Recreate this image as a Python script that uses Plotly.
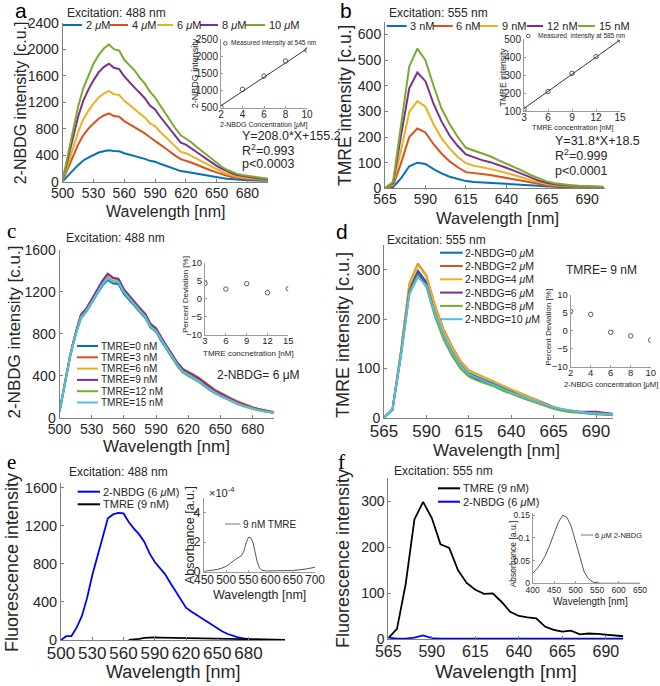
import plotly.graph_objects as go

# ---------------- data ----------------
wl_a = [500, 505, 510, 515, 520, 525, 530, 535, 540, 545, 550, 555, 560, 565, 570, 575, 580, 585, 590, 595,
        600, 605, 610, 615, 620, 625, 630, 635, 640, 645, 650, 655, 660, 665, 670, 675, 680, 685, 690, 695, 700]
a_labels = ["2 <i>μ</i>M", "4 <i>μ</i>M", "6 <i>μ</i>M", "8 <i>μ</i>M", "10 <i>μ</i>M"]
a_2uM = [5, 80, 170, 250, 320, 365, 405, 440, 460, 475, 465, 460, 430, 410, 385, 365, 345, 315, 300, 270,
         240, 210, 185, 160, 150, 135, 122, 108, 94, 80, 67, 55, 45, 37, 30, 25, 21, 18, 15, 13, 12]
a_4uM = [15, 190, 380, 560, 700, 800, 880, 950, 1000, 1030, 990, 980, 915, 870, 820, 770, 730, 670, 620, 560,
         505, 445, 390, 340, 320, 290, 260, 225, 195, 165, 140, 113, 90, 72, 58, 48, 41, 35, 30, 27, 24]
a_6uM = [20, 250, 500, 750, 940, 1070, 1180, 1270, 1330, 1370, 1320, 1310, 1220, 1160, 1090, 1030, 970, 880, 840, 750,
         680, 600, 520, 450, 430, 390, 350, 305, 265, 225, 185, 150, 120, 97, 78, 65, 55, 48, 41, 36, 32]
a_8uM = [25, 330, 650, 980, 1220, 1390, 1530, 1650, 1730, 1780, 1720, 1700, 1590, 1500, 1420, 1340, 1260, 1150, 1090, 980,
         880, 780, 680, 590, 560, 510, 455, 400, 345, 290, 240, 195, 155, 125, 100, 85, 72, 62, 53, 47, 42]
a_10uM = [30, 380, 740, 1130, 1410, 1610, 1780, 1910, 2010, 2070, 2000, 1980, 1840, 1760, 1680, 1570, 1480, 1360, 1270, 1150,
          1030, 910, 800, 700, 655, 600, 530, 470, 405, 340, 280, 225, 180, 145, 118, 100, 86, 72, 62, 55, 50]
a_xticks = [500, 530, 560, 590, 620, 650, 680]
a_yticks = [0, 400, 800, 1200, 1600, 2000, 2400]

a_in_conc = [2, 4, 6, 8, 10]
a_in_int = [512, 1037, 1425, 1864, 2185]
a_fit_x = [2, 10]
a_fit_y = [560, 2225]

wl_b = [565, 570, 575, 580, 585, 590, 595, 600, 605, 610, 615, 620, 625, 630, 635, 640, 645, 650, 655, 660,
        665, 670, 675, 680, 685, 690, 695, 700]
b_labels = ["3 nM", "6 nM", "9 nM", "12 nM", "15 nM"]
b_3nM = [0, 5, 40, 86, 100, 95, 75, 58, 45, 35, 28, 25, 23, 21, 19, 17, 15, 13, 10, 8, 6, 5, 4, 3, 3, 2, 2, 2]
b_6nM = [0, 10, 100, 200, 233, 218, 172, 135, 105, 82, 63, 60, 56, 52, 46, 40, 36, 30, 23, 17, 12, 9, 7, 6, 5, 4, 4, 3]
b_9nM = [0, 15, 150, 298, 340, 318, 250, 195, 155, 122, 98, 88, 82, 76, 68, 60, 52, 42, 32, 24, 17, 13, 10, 8, 7, 6, 5, 4]
b_12nM = [0, 20, 210, 390, 452, 418, 330, 260, 205, 165, 132, 120, 110, 102, 92, 80, 68, 56, 42, 30, 22, 16, 13, 10, 8, 7, 6, 5]
b_15nM = [0, 25, 250, 475, 545, 500, 400, 310, 250, 200, 158, 148, 138, 125, 110, 97, 82, 68, 52, 38, 27, 20, 15, 12, 10, 8, 7, 6]
b_xticks = [565, 590, 615, 640, 665, 690]
b_yticks = [0, 100, 200, 300, 400, 500, 600]

b_in_conc = [3, 6, 9, 12, 15]
b_in_int = [111, 208, 310, 403, 496]
b_fit_x = [3, 15]
b_fit_y = [114, 496]

c_labels = ["TMRE=0 nM", "TMRE=3 nM", "TMRE=6 nM", "TMRE=9 nM", "TMRE=12 nM", "TMRE=15 nM"]
c_0 = [55, 320, 590, 790, 950, 1010, 1100, 1180, 1260, 1315, 1280, 1275, 1180, 1120, 1060, 1000, 950, 860, 820, 730,
       650, 570, 495, 435, 405, 375, 345, 305, 265, 235, 210, 185, 160, 138, 118, 102, 88, 75, 64, 55, 48]
c_3 = [60, 330, 600, 810, 985, 1040, 1130, 1210, 1300, 1365, 1330, 1320, 1225, 1160, 1100, 1040, 990, 895, 855, 765,
       685, 605, 525, 465, 440, 410, 380, 340, 300, 265, 240, 210, 185, 160, 138, 118, 100, 86, 74, 64, 55]
c_6 = [58, 325, 595, 800, 975, 1030, 1120, 1200, 1290, 1350, 1310, 1305, 1210, 1150, 1085, 1025, 975, 875, 835, 745,
       665, 585, 505, 445, 415, 385, 350, 310, 270, 235, 208, 180, 155, 133, 113, 97, 83, 71, 61, 52, 45]
c_9 = [58, 328, 598, 805, 980, 1040, 1130, 1215, 1305, 1375, 1335, 1325, 1225, 1165, 1100, 1040, 985, 890, 850, 760,
       680, 600, 520, 460, 430, 400, 370, 330, 290, 255, 228, 200, 175, 150, 128, 110, 94, 80, 68, 58, 50]
c_12 = [56, 322, 592, 795, 960, 1020, 1110, 1190, 1270, 1330, 1295, 1290, 1195, 1130, 1070, 1010, 955, 860, 820, 735,
        655, 575, 495, 430, 400, 372, 342, 302, 265, 235, 208, 182, 158, 136, 116, 100, 86, 73, 62, 53, 46]
c_15 = [55, 318, 588, 790, 955, 1015, 1105, 1190, 1275, 1330, 1300, 1295, 1200, 1140, 1080, 1020, 965, 870, 830, 745,
        665, 585, 505, 442, 412, 382, 352, 312, 272, 240, 212, 186, 162, 140, 120, 103, 88, 75, 64, 55, 47]
c_yticks = [0, 400, 800, 1200, 1600]
c_in_tmre = [3, 6, 9, 12, 15]
c_in_dev = [4.3, 2.7, 4.2, 1.7, 2.8]

d_labels = ["2-NBDG=0 <i>μ</i>M", "2-NBDG=2 <i>μ</i>M", "2-NBDG=4 <i>μ</i>M",
            "2-NBDG=6 <i>μ</i>M", "2-NBDG=8 <i>μ</i>M", "2-NBDG=10 <i>μ</i>M"]
d_0 = [0, 16, 130, 260, 298, 275, 215, 170, 135, 108, 90, 82, 75, 68, 60, 53, 46, 40, 33, 26, 20, 16, 13, 11, 9, 8, 7, 6]
d_2 = [0, 18, 135, 272, 312, 288, 228, 180, 145, 115, 96, 88, 80, 72, 64, 57, 50, 43, 36, 28, 22, 17, 14, 12, 10, 9, 8, 7]
d_4 = [0, 17, 134, 270, 310, 286, 226, 178, 143, 114, 95, 88, 80, 73, 65, 57, 50, 43, 35, 27, 21, 16, 13, 11, 9, 8, 7, 6]
d_6 = [0, 16, 128, 258, 292, 270, 210, 165, 130, 105, 87, 78, 72, 65, 57, 50, 43, 37, 31, 25, 19, 15, 13, 12, 12, 12, 10, 8]
d_8 = [0, 16, 128, 255, 288, 265, 205, 160, 126, 100, 83, 75, 69, 63, 55, 48, 42, 36, 30, 24, 18, 14, 11, 10, 8, 7, 6, 5]
d_10 = [0, 17, 125, 250, 285, 268, 212, 168, 133, 106, 88, 80, 73, 66, 58, 51, 45, 39, 33, 27, 21, 17, 14, 12, 10, 9, 8, 7]
d_yticks = [0, 100, 200, 300]
d_in_nbdg = [2, 4, 6, 8, 10]
d_in_dev = [5.4, 4.6, -0.4, -1.4, -2.6]
dev_ticks = [-10, -5, 0, 5, 10]

wl_e = [500, 505, 510, 515, 520, 525, 530, 535, 540, 545, 550, 555, 560, 565, 570, 575, 580, 585, 590, 595,
        600, 605, 610, 615, 620, 625, 630, 635, 640, 645, 650, 655, 660, 665, 670, 675, 680, 685, 690, 695]
e_nbdg = [0, 40, 42, 130, 250, 440, 680, 880, 1080, 1280, 1320, 1335, 1330, 1240, 1170, 1110, 1030, 910, 820, 760,
          690, 600, 510, 420, 340, 300, 265, 228, 192, 155, 122, 90, 63, 42, 28, 16, 8, 4, 2, 0]
wl_e_tmre = [565, 570, 575, 580, 585, 590, 595, 600, 610, 620, 630, 640, 650, 660, 670, 680, 690, 700, 710, 715]
e_tmre = [0, 3, 12, 22, 28, 27, 26, 25, 23, 21, 19, 17, 15, 12, 10, 8, 6, 4, 3, 2]
e_yticks = [0, 400, 800, 1200, 1600]
wl_abs_e = [450, 460, 470, 480, 490, 500, 510, 515, 520, 525, 530, 535, 540, 545, 550, 555, 560, 565, 570, 575,
            580, 590, 600, 620, 650, 680, 700]
abs_e = [0.02, 0.05, 0.09, 0.15, 0.24, 0.36, 0.58, 0.72, 0.82, 0.9, 0.98, 1.1, 1.4, 1.95, 2.3, 2.3, 2.0, 1.35, 0.65, 0.25,
         0.1, 0.05, 0.05, 0.05, 0.08, 0.18, 0.3]
e_in_xticks = [450, 500, 550, 600, 650, 700]
e_in_yticks = [0, 2, 4]

f_tmre = [2, 22, 120, 260, 298, 263, 206, 198, 150, 122, 107, 98, 99, 81, 59, 50, 47, 45, 27, 20, 16, 18, 10, 12, 11, 9, 8, 6]
f_nbdg = [3, 1, 1, 3, 8, 2, 1, 1, 1, 1, 1, 1, 1, 1, 1, 1, 1, 1, 1, 1, 1, 1, 1, 1, 1, 1, 1, 1]
wl_abs_f = [400, 410, 420, 430, 440, 450, 460, 470, 480, 490, 500, 510, 520, 530, 540, 550, 560, 600, 650]
abs_f = [0.022, 0.032, 0.045, 0.062, 0.085, 0.11, 0.135, 0.15, 0.145, 0.125, 0.092, 0.055, 0.025, 0.01, 0.003, 0.001, 0, 0, 0]
f_in_xticks = [400, 450, 500, 550, 600, 650]
f_in_yticks = [0, 0.05, 0.1, 0.15]
f_in_yticktext = ["0", "0.05", "0.1", "0.15"]

# ---------------- styling ----------------
W, H = 660, 686
FONT = "Liberation Sans, Arial, sans-serif"
SERIF = "Liberation Serif, Times New Roman, serif"
AXC = "#7f7f7f"
INC = "#9a9a9a"
TXT = "#262626"
C6 = ["#0072BD", "#D95319", "#EDB120", "#7E2F8E", "#77AC30", "#4DBEEE"]


def X(p):
    return p / W


def Y(p):
    return 1 - p / H


layout = {}
annotations = []
shapes = []
fig = go.Figure()


def refs(n):
    return ("x" if n == 1 else f"x{n}", "y" if n == 1 else f"y{n}")


def add_axes(n, xdom, ydom, xr, yr, xt, yt, xfs, yfs, ytt=None, col=AXC, tl=3, xso=-2, yso=0):
    xk = "xaxis" if n == 1 else f"xaxis{n}"
    yk = "yaxis" if n == 1 else f"yaxis{n}"
    xr_, yr_ = refs(n)
    common = dict(showgrid=False, zeroline=False, showline=True, linecolor=col, linewidth=1,
                  ticks="inside", ticklen=tl, tickwidth=1, tickcolor=col, automargin=False,
                  fixedrange=True, tickangle=0)
    layout[xk] = dict(domain=[X(xdom[0]), X(xdom[1])], range=xr, anchor=yr_, tickvals=xt,
                      tickfont=dict(family=FONT, size=xfs, color=TXT), ticklabelstandoff=xso, **common)
    yd = dict(domain=[Y(ydom[1]), Y(ydom[0])], range=yr, anchor=xr_, tickvals=yt,
              tickfont=dict(family=FONT, size=yfs, color=TXT), ticklabelstandoff=yso, **common)
    if ytt is not None:
        yd["ticktext"] = ytt
    layout[yk] = yd


def line(n, x, y, color, width=2):
    xr_, yr_ = refs(n)
    fig.add_trace(go.Scatter(x=x, y=y, mode="lines", line=dict(color=color, width=width),
                             xaxis=xr_, yaxis=yr_, showlegend=False, hoverinfo="skip"))


def pts(n, x, y):
    xr_, yr_ = refs(n)
    fig.add_trace(go.Scatter(x=x, y=y, mode="markers",
                             marker=dict(symbol="circle-open", size=4.5, color="#333333", line=dict(width=0.8)),
                             xaxis=xr_, yaxis=yr_, showlegend=False, hoverinfo="skip"))


def txt(x, y, s, size, anchor="left", angle=0, family=FONT, color=TXT):
    annotations.append(dict(x=X(x), y=Y(y), xref="paper", yref="paper", text=s, showarrow=False,
                            xanchor=anchor, yanchor="middle", textangle=angle,
                            font=dict(family=family, size=size, color=color)))


def leg_line(x0, x1, y, color, width=2):
    shapes.append(dict(type="line", xref="paper", yref="paper", x0=X(x0), x1=X(x1), y0=Y(y), y1=Y(y),
                       line=dict(color=color, width=width)))


def leg_circle(cx, cy, r=1.8):
    shapes.append(dict(type="circle", xref="paper", yref="paper", x0=X(cx - r), x1=X(cx + r),
                       y0=Y(cy + r), y1=Y(cy - r), line=dict(color="#333333", width=0.8)))


# ---------------- axes ----------------
add_axes(1, (62.7, 268), (22.7, 181.7), [500, 700], [0, 2400], a_xticks, a_yticks, 14, 14)
add_axes(2, (385, 605), (21.7, 188.3), [565, 701], [0, 650], b_xticks, b_yticks, 14, 14)
add_axes(3, (59.5, 274), (250, 417.7), [500, 700], [0, 1600], a_xticks, c_yticks, 14, 14)
add_axes(4, (384, 613), (245, 417.7), [565, 700], [0, 350], b_xticks, d_yticks, 17, 14)
add_axes(5, (61, 285), (483, 640), [500, 715], [0, 1650], a_xticks, e_yticks, 17, 14.5)
add_axes(6, (388.3, 623.3), (478, 639), [565, 700], [0, 350], b_xticks, d_yticks, 16, 14)
add_axes(7, (221, 307), (39.3, 107.7), [2, 10], [500, 2500], a_in_conc, [500, 1000, 1500, 2000, 2500], 10, 10,
         col=INC, tl=2, xso=-3)
add_axes(8, (524, 620), (39.3, 111), [3, 15], [100, 500], b_in_conc, [100, 200, 300, 400, 500], 10, 10,
         col=INC, tl=2, xso=-3)
add_axes(9, (205, 288.3), (262.7, 335), [3, 15], [-10, 10], c_in_tmre, dev_ticks, 9.5, 9.5, col=INC, tl=2, xso=-3)
add_axes(10, (570.7, 650.7), (295, 366.7), [2, 10], [-10, 10], d_in_nbdg, dev_ticks, 9.5, 9.5, col=INC, tl=2, xso=-3)
add_axes(11, (204, 315), (497.5, 571.7), [450, 700], [0, 5], e_in_xticks, e_in_yticks, 12, 12.5, col=INC, tl=2, xso=-3)
add_axes(12, (532.7, 640), (513, 583.3), [400, 650], [0, 0.155], f_in_xticks, f_in_yticks, 8.5, 8.5,
         ytt=f_in_yticktext, col=INC, tl=2, xso=-2)

# ---------------- traces ----------------
for s, c in zip([a_2uM, a_4uM, a_6uM, a_8uM, a_10uM], C6):
    line(1, wl_a, s, c)
for s, c in zip([b_3nM, b_6nM, b_9nM, b_12nM, b_15nM], C6):
    line(2, wl_b, s, c)
for s, c in zip([c_0, c_3, c_6, c_9, c_12, c_15], C6):
    line(3, wl_a, s, c)
for s, c in zip([d_0, d_2, d_4, d_6, d_8, d_10], C6):
    line(4, wl_b, s, c)
line(5, wl_e, e_nbdg, "#0000FF", 1.8)
line(5, wl_e_tmre, e_tmre, "#000000", 1.8)
line(6, wl_b, f_tmre, "#000000", 1.8)
line(6, wl_b, f_nbdg, "#0000FF", 1.8)
line(7, a_fit_x, a_fit_y, "#000000", 0.8)
pts(7, a_in_conc, a_in_int)
line(8, b_fit_x, b_fit_y, "#000000", 0.8)
pts(8, b_in_conc, b_in_int)
pts(9, c_in_tmre, c_in_dev)
pts(10, d_in_nbdg, d_in_dev)
line(11, wl_abs_e, abs_e, "#555555", 1)
line(12, wl_abs_f, abs_f, "#555555", 1)

# ---------------- legends ----------------
for (x0, x1, tx), lab, c in zip([(63, 82, 83.5), (110, 128, 129.5), (157, 173, 174.5), (200, 218, 219.5), (245, 265, 266.5)],
                                a_labels, C6):
    leg_line(x0, x1, 25, c)
    txt(tx, 25, lab, 11)
for (x0, x1, tx), lab, c in zip([(386.7, 406.7, 408), (433, 452.7, 454), (478, 498, 499.5), (526.7, 543, 544.5), (578, 595, 596.5)],
                                b_labels, C6):
    leg_line(x0, x1, 26, c)
    txt(tx, 26, lab, 11)
for i, (lab, c) in enumerate(zip(c_labels, C6)):
    yy = 346 + 11.3 * i
    leg_line(77, 98, yy, c)
    txt(98.5, yy, lab, 10)
for i, (lab, c) in enumerate(zip(d_labels, C6)):
    yy = 252.7 + 13.3 * i
    leg_line(440, 462.7, yy, c)
    txt(463, yy, lab, 10.5)
leg_line(77.7, 100, 491.7, "#0000FF")
txt(100.5, 491.7, "2-NBDG (6 <i>μ</i>M)", 11)
leg_line(77.7, 100, 504.3, "#000000")
txt(100.5, 504.3, "TMRE (9 nM)", 11)
leg_line(438, 460, 488.3, "#000000")
txt(460.5, 488.3, "TMRE (9 nM)", 11)
leg_line(438, 460, 501.7, "#0000FF")
txt(460.5, 501.7, "2-NBDG (6 <i>μ</i>M)", 11)
leg_circle(225.3, 43.3)
txt(228.5, 43.3, "Measured intensity at 545 nm", 6.5)
leg_circle(528.3, 36)
txt(535.5, 36, "Measured  intensity at 585 nm", 6.5)
leg_line(225, 240, 524, "#777777", 1)
txt(240.5, 524, "9 nM TMRE", 10)
leg_line(581, 593, 535, "#777777", 1)
txt(593, 535, "6 <i>μ</i>M 2-NBDG", 7.5)

# ---------------- texts ----------------
for lab, x, y, fam in [("a", 21, 10, FONT), ("b", 346, 11, FONT), ("c", 11, 231, SERIF),
                       ("d", 342, 231, FONT), ("e", 11, 462, SERIF), ("f", 341, 462, SERIF)]:
    txt(x, y, lab, 21, "center", family=fam, color="#000000")
txt(116.7, 12.7, "Excitation: 488 nm", 12, "center")
txt(438.8, 12.7, "Excitation: 555 nm", 12, "center")
txt(115, 238.3, "Excitation: 488 nm", 12, "center")
txt(436.7, 240, "Excitation: 555 nm", 12, "center")
txt(118, 472.3, "Excitation: 488 nm", 12, "center")
txt(443.3, 471, "Excitation: 555 nm", 12, "center")

txt(239.5, 136, "Y=208.0*X+155.2", 12.5)
txt(239.5, 150, "R<sup>2</sup>=0.993", 12.5)
txt(239.5, 164.3, "p<0.0003", 12.5)
txt(553, 141, "Y=31.8*X+18.5", 12.5)
txt(553, 155.3, "R<sup>2</sup>=0.999", 12.5)
txt(553, 170.7, "p<0.0001", 12.5)
txt(258, 375, "2-NBDG= 6 μM", 12, "center")
txt(601, 270, "TMRE= 9 nM", 12, "center")
txt(207, 492, "×10<sup>-4</sup>", 11)

# main axis titles
txt(20, 103.3, "2-NBDG intensity [c.u.]", 16, "center", -90)
txt(165, 211.7, "Wavelength [nm]", 16, "center")
txt(345, 106, "TMRE intensity [c.u.]", 17.5, "center", -90)
txt(497.5, 218, "Wavelength [nm]", 16.5, "center")
txt(14, 332.5, "2-NBDG intensity [c.u.]", 17, "center", -90)
txt(166.7, 446.7, "Wavelength [nm]", 17, "center")
txt(343, 335, "TMRE intensity [c.u.]", 18, "center", -90)
txt(496.7, 450, "Wavelength [nm]", 17, "center")
txt(12, 563, "Fluorescence intensity", 18, "center", -90)
txt(172.5, 672, "Wavelength [nm]", 18, "center")
txt(343, 559, "Fluorescence intensity", 18, "center", -90)
txt(505.8, 671.7, "Wavelength [nm]", 19, "center")

# inset axis titles
txt(195, 73.3, "2-NBDG intensity", 9, "center", -90)
txt(264, 124.5, "2-NBDG Concentration [<i>μ</i>M]", 7, "center")
txt(503.3, 77.3, "TMRE intensity", 8.6, "center", -90)
txt(572.5, 127.5, "TMRE concentration [nM]", 7.2, "center")
txt(185, 294, "Percent Deviation [%]", 8, "center", -90)
txt(248.3, 353.3, "TMRE concnetration [nM]", 8, "center")
txt(548.3, 327.5, "Percent Deviation [%]", 8, "center", -90)
txt(610.8, 384.3, "2-NBDG concentration [<i>μ</i>M]", 7.7, "center")
txt(190, 535, "Absorbance [a.u.]", 12.5, "center", -90)
txt(259, 595, "Wavelength [nm]", 12.5, "center")
txt(513.3, 554, "Absorbance [a.u.]", 8.5, "center", -90)
txt(590, 601.7, "Wavelength [nm]", 10, "center")

fig.update_layout(width=W, height=H, margin=dict(l=0, r=0, t=0, b=0), paper_bgcolor="white",
                  plot_bgcolor="rgba(0,0,0,0)", showlegend=False, annotations=annotations, shapes=shapes,
                  font=dict(family=FONT, color=TXT), **layout)
fig.write_html("out.html", config={"displayModeBar": False},
               post_script="document.body.style.margin='0px';")
